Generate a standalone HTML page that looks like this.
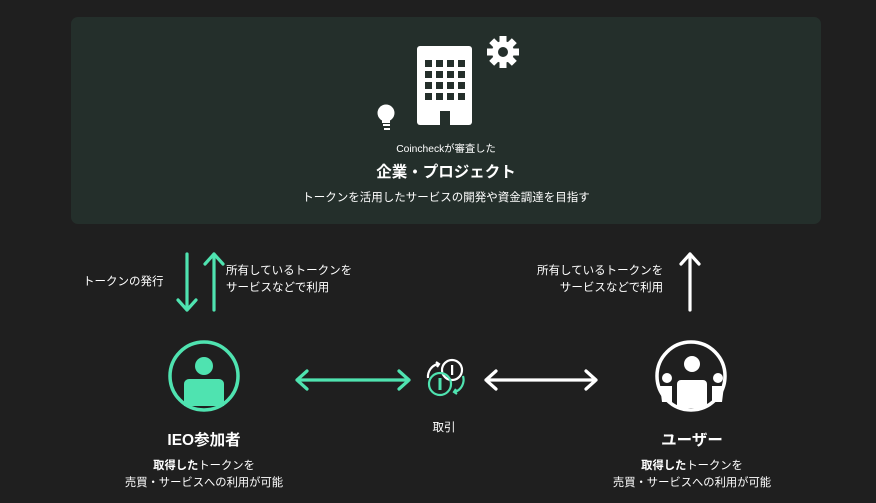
<!DOCTYPE html>
<html><head><meta charset="utf-8"><style>
html,body{margin:0;padding:0;background:#1f1f1f;}
body{width:876px;height:503px;position:relative;overflow:hidden;font-family:"Liberation Sans","Noto Sans CJK JP",sans-serif;color:#fff;}
.t{position:absolute;white-space:nowrap;text-align:center;transform:translateX(-50%);}
.l{position:absolute;white-space:nowrap;font-size:11.5px;line-height:17px;}
</style></head><body>
<div style="position:absolute;left:71px;top:17px;width:750px;height:207px;background:#242f2b;border-radius:7px;"></div>
<svg width="876" height="503" style="position:absolute;left:0;top:0">
<!-- building -->
<rect x="417" y="46" width="55" height="79" rx="3" fill="#fff"/>
<g fill="#242f2b">
<g id="row"><rect x="425" y="60" width="7" height="7"/><rect x="436" y="60" width="7" height="7"/><rect x="447" y="60" width="7" height="7"/><rect x="458" y="60" width="7" height="7"/></g>
<use href="#row" y="11"/><use href="#row" y="22"/><use href="#row" y="33"/>
<rect x="440" y="111" width="10" height="14"/>
</g>
<!-- gear -->
<g transform="translate(503,52)" fill="#fff">
<circle r="11"/>
<g><rect x="-3.5" y="-16" width="7" height="32"/><rect x="-3.5" y="-16" width="7" height="32" transform="rotate(45)"/><rect x="-3.5" y="-16" width="7" height="32" transform="rotate(90)"/><rect x="-3.5" y="-16" width="7" height="32" transform="rotate(135)"/></g>
<circle r="5" fill="#242f2b"/>
</g>
<!-- bulb -->
<circle cx="386" cy="113" r="8.5" fill="#fff"/>
<rect x="382" y="117" width="8" height="6" fill="#fff"/>
<rect x="383" y="124" width="7" height="2" fill="#fff"/><rect x="384" y="128" width="6" height="2" fill="#fff"/>
<g stroke="#4fe3b0" stroke-width="3.2" fill="none" stroke-linecap="round" stroke-linejoin="round">
<path d="M187 254V310M178 300L187 310L196 300"/>
<path d="M214 310V254M205 264L214 254L223 264"/>
<path d="M297 380H409M307 371L297 380L307 389M399 371L409 380L399 389"/>
<circle cx="204" cy="376" r="34" stroke-width="3.5"/>
</g>
<g stroke="#fff" stroke-width="3.2" fill="none" stroke-linecap="round" stroke-linejoin="round">
<path d="M690 310V254M681 264L690 254L699 264"/>
<path d="M486 380H596M496 371L486 380L496 389M586 371L596 380L586 389"/>
<circle cx="691" cy="376" r="34" stroke-width="3.5"/>
</g>
<circle cx="204" cy="366" r="9" fill="#4fe3b0"/>
<path d="M184 384a5 5 0 0 1 5-5h30a5 5 0 0 1 5 5v22h-40z" fill="#4fe3b0"/>
<g fill="#fff">
<circle cx="692" cy="364" r="8"/>
<path d="M677 384a4 4 0 0 1 4-4h22a4 4 0 0 1 4 4v24h-30z"/>
<circle cx="667" cy="378" r="5"/><path d="M660 386h12v16h-10z"/>
<circle cx="718" cy="378" r="5"/><path d="M712 386h12l-2 16h-10z"/>
</g>
<!-- coins -->
<g fill="none" stroke-width="2.2">
<circle cx="452" cy="370" r="10" stroke="#fff"/>
<rect x="451" y="365" width="2.2" height="10" fill="#fff" stroke="none"/>
<circle cx="440" cy="384" r="11" stroke="#4fe3b0"/>
<rect x="438.5" y="378" width="3" height="12" fill="#4fe3b0" stroke="none"/>
<path d="M428 378a13 13 0 0 1 10-14" stroke="#fff"/>
<path d="M436 362l3 2-2 3" stroke="#fff"/>
<path d="M463 376a13 13 0 0 1-8 16" stroke="#4fe3b0"/>
<path d="M457 394l-3-2 2-3" stroke="#4fe3b0"/>
</g>
</svg>
<div class="t" style="left:446px;top:140px;font-size:10.3px;">Coincheckが審査した</div>
<div class="t" style="left:446px;top:160px;font-size:15.5px;font-weight:bold;">企業・プロジェクト</div>
<div class="t" style="left:446px;top:189px;font-size:11.5px;">トークンを活用したサービスの開発や資金調達を目指す</div>
<div class="l" style="left:83px;top:274px;">トークンの発行</div>
<div class="l" style="left:226px;top:263px;">所有しているトークンを<br>サービスなどで利用</div>
<div class="l" style="left:537px;top:263px;text-align:right;">所有しているトークンを<br>サービスなどで利用</div>
<div class="t" style="left:444px;top:419px;font-size:11.5px;">取引</div>
<div class="t" style="left:204px;top:428px;font-size:15.5px;font-weight:bold;">IEO参加者</div>
<div class="t" style="left:692px;top:428px;font-size:15.5px;font-weight:bold;">ユーザー</div>
<div class="t" style="left:204px;top:458px;font-size:11.3px;line-height:17px;"><b>取得した</b>トークンを<br>売買・サービスへの利用が可能</div>
<div class="t" style="left:692px;top:458px;font-size:11.3px;line-height:17px;"><b>取得した</b>トークンを<br>売買・サービスへの利用が可能</div>
</body></html>
